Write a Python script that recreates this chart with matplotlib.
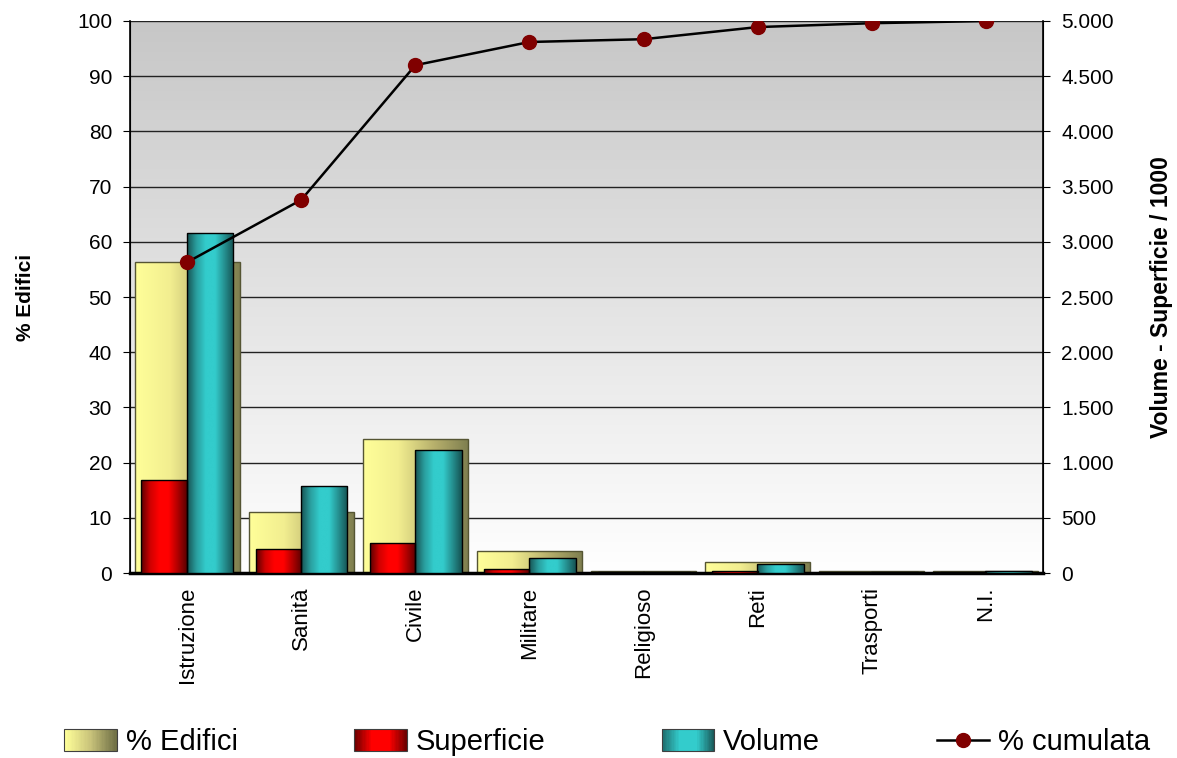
import numpy as np
import matplotlib
matplotlib.use("Agg")
from matplotlib import pyplot as plt
from matplotlib.patches import Rectangle
from matplotlib.lines import Line2D
from matplotlib.colors import LinearSegmentedColormap
from matplotlib.legend_handler import HandlerBase
from matplotlib.ticker import FuncFormatter, MultipleLocator

plt.rcParams["font.family"] = ["Liberation Sans", "DejaVu Sans"]

categorie = ["Istruzione", "Sanità", "Civile", "Militare", "Religioso", "Reti", "Trasporti", "N.I."]
perc_edifici = [56.3, 11.1, 24.3, 4.0, 0.4, 2.0, 0.4, 0.3]
superficie = [842, 217, 272, 36, 5, 20, 3, 5]
volume = [3080, 788, 1114, 136, 10, 80, 8, 15]
perc_cumulata = [56.3, 67.6, 92.0, 96.2, 96.7, 98.9, 99.6, 100.0]

GIALLO = ["#ffff99", "#f2ee90", "#b9b26d", "#7f7f50"]
ROSSO = ["#5a0000", "#d00000", "#ff0000", "#ff0000", "#b00000", "#5a0000"]
TEAL = ["#165252", "#2a9e9e", "#33cccc", "#33cccc", "#259090", "#165252"]


def gradiente(colori, n=256):
    cmap = LinearSegmentedColormap.from_list("g", colori)
    return cmap(np.linspace(0, 1, n))[None, :, :3]


def barre_gradiente(ax, xs, hs, width, colori, edge, lw=1.0, z=2):
    img = gradiente(colori)
    for x, h in zip(xs, hs):
        x0 = x - width / 2
        rect = Rectangle((x0, 0), width, h, facecolor="none", edgecolor=edge,
                         linewidth=lw, zorder=z + 0.1)
        ax.add_patch(rect)
        im = ax.imshow(img, extent=(x0, x0 + width, 0, h), aspect="auto",
                       zorder=z, interpolation="bilinear")
        im.set_clip_path(rect)


class HandlerGradiente(HandlerBase):
    def __init__(self, colori, **kw):
        super().__init__(**kw)
        self.colori = colori

    def create_artists(self, legend, orig_handle, xdescent, ydescent, width,
                       height, fontsize, trans):
        cmap = LinearSegmentedColormap.from_list("g", self.colori)
        n = 40
        arts = []
        for i in range(n):
            arts.append(Rectangle((-xdescent + width * i / n, -ydescent),
                                  width / n + 0.4, height,
                                  facecolor=cmap(i / (n - 1)), edgecolor="none",
                                  transform=trans))
        arts.append(Rectangle((-xdescent, -ydescent), width, height,
                              fill=False, edgecolor="#404040", linewidth=0.8,
                              transform=trans))
        return arts


fig = plt.figure(figsize=(11.77, 7.58), dpi=100)
ax = fig.add_axes([0.1105, 0.244, 0.7757, 0.7283])
ax2 = ax.twinx()
ax3 = ax.twinx()

x = np.arange(len(categorie))

# sfondo sfumato
sfondo = np.linspace(0.78, 1.0, 256)[:, None] * np.ones((1, 2))
sfondo = np.dstack([sfondo] * 3)
ax.imshow(sfondo, extent=(-0.5, len(categorie) - 0.5, 0, 100), aspect="auto",
          zorder=0, origin="upper", interpolation="bilinear")

for v in range(10, 101, 10):
    ax.axhline(v, color="#222222", linewidth=1.0, zorder=1)

barre_gradiente(ax, x, perc_edifici, 0.92, GIALLO, "#555533", lw=1.0, z=2)
barre_gradiente(ax2, x - 0.2, superficie, 0.40, ROSSO, "black", lw=1.0, z=2)
barre_gradiente(ax2, x + 0.2, volume, 0.41, TEAL, "black", lw=1.0, z=2)

ax3.plot(x, perc_cumulata, color="black", linewidth=1.8, marker="o",
         markersize=10, markerfacecolor="#800000", markeredgecolor="#800000",
         zorder=5)

for a in (ax, ax2, ax3):
    a.set_xlim(-0.5, len(categorie) - 0.5)
ax.set_ylim(0, 100)
ax3.set_ylim(0, 100)
ax2.set_ylim(0, 5000)
ax3.axis("off")

ax.yaxis.set_major_locator(MultipleLocator(10))
ax2.yaxis.set_major_locator(MultipleLocator(500))
ax2.yaxis.set_major_formatter(FuncFormatter(lambda v, p: f"{int(v):,}".replace(",", ".")))

ax.set_xticks(np.arange(len(categorie) + 1) - 0.5)
ax.set_xticklabels([])
ax.set_xticks(x, minor=True)
ax.set_xticklabels(categorie, minor=True, rotation=90, fontsize=16)
ax.tick_params(axis="x", which="major", length=8, width=1.5, direction="out")
ax.tick_params(axis="x", which="minor", length=0, pad=10)
ax.tick_params(axis="y", labelsize=15, length=5, pad=8)
ax2.tick_params(axis="y", labelsize=15, length=5, pad=8)
ax2.set_xticks([])

for a in (ax, ax2):
    a.spines["top"].set_visible(False)
ax.spines["bottom"].set_linewidth(2.5)
ax.spines["left"].set_linewidth(1.2)
ax2.spines["right"].set_linewidth(1.2)
ax2.spines["bottom"].set_visible(False)

ax.set_ylabel("% Edifici", fontsize=15, fontweight="bold", labelpad=30)
ax2.set_ylabel("Volume - Superficie / 1000", fontsize=16.5, fontweight="bold", labelpad=26)

h1 = Rectangle((0, 0), 1, 1)
h2 = Rectangle((0, 0), 1, 1)
h3 = Rectangle((0, 0), 1, 1)
h4 = Line2D([], [], color="black", linewidth=1.8, marker="o", markersize=10,
            markerfacecolor="#800000", markeredgecolor="#800000")
fig.legend([h1, h2, h3, h4], ["% Edifici", "Superficie", "Volume", "% cumulata"],
           handler_map={h1: HandlerGradiente(GIALLO[:1] + ["#c8c27a", "#6f6f45"]),
                        h2: HandlerGradiente(["#700000", "#ff0000", "#ff0000", "#700000"]),
                        h3: HandlerGradiente(["#1f7070", "#33cccc", "#33cccc", "#1a5a5a"])},
           loc="center", bbox_to_anchor=(0.516, 0.021), ncol=4, frameon=False,
           fontsize=21, handlelength=1.8, handleheight=0.75, handletextpad=0.3,
           columnspacing=4.0)

fig.savefig("out.png", dpi=100)
